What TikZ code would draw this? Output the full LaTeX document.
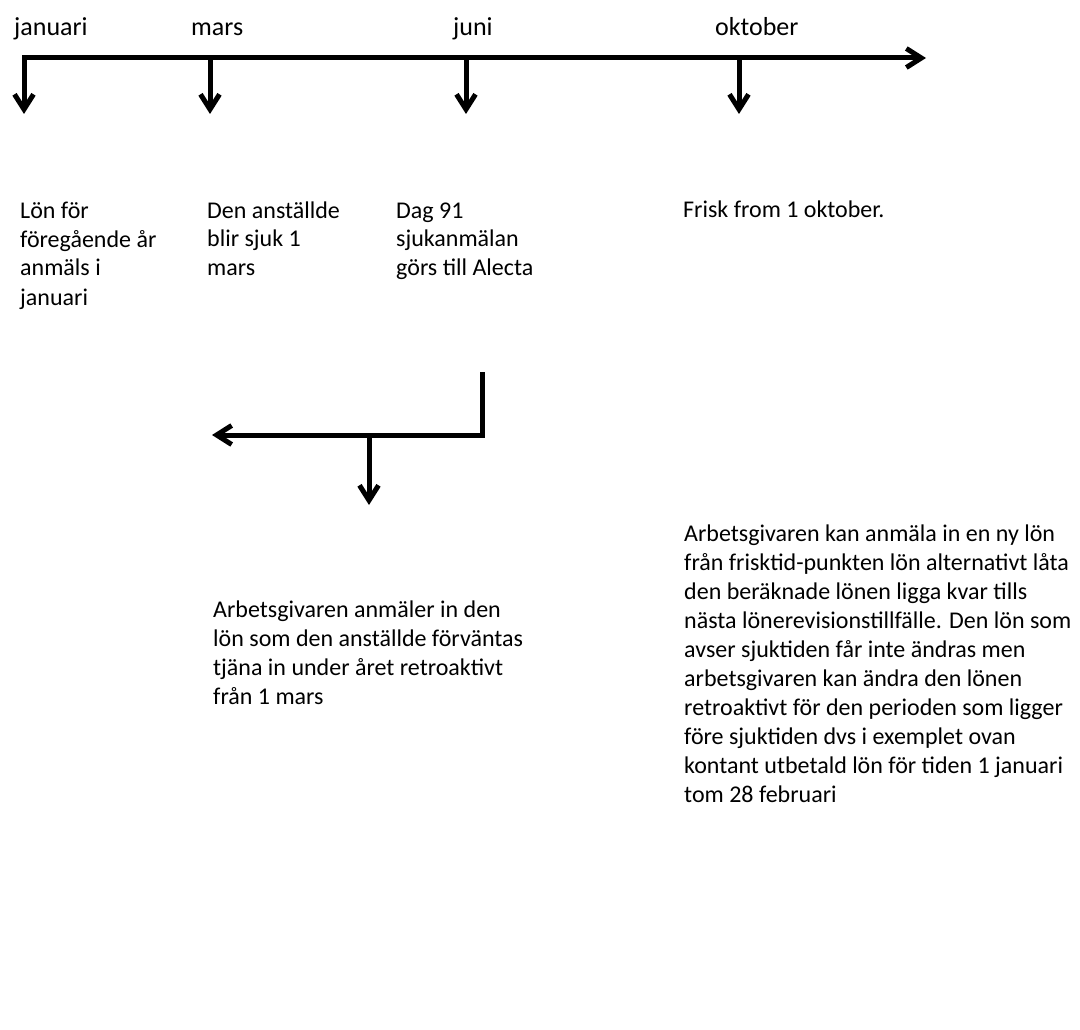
\documentclass[tikz,border=0pt]{standalone}
\usepackage{fontspec}
\setmainfont{Carlito}
\usetikzlibrary{arrows.meta}
\tikzset{
  conn/.style={line width=5pt, line join=miter},
  tip/.tip={Straight Barb[length=15pt,width=19pt,line width=5pt]},
  arr/.style={conn, -tip},
  txt/.style={anchor=base west, inner sep=0pt, align=left, font=\fontsize{24}{29}\selectfont},
  mon/.style={anchor=base west, inner sep=0pt, font=\fontsize{26}{31}\selectfont},
}
\begin{document}
\begin{tikzpicture}[x=1pt,y=-1pt]
\useasboundingbox (0,0) rectangle (1080,1030);
% top timeline
\coordinate (jan) at (24,58);
\coordinate (end) at (926,58);
\coordinate (mar) at (210,58);
\coordinate (jun) at (466,58);
\coordinate (okt) at (739,58);
\coordinate (janT) at (24,114);
\coordinate (marT) at (210,114);
\coordinate (junT) at (466,114);
\coordinate (oktT) at (739,114);
\draw[conn, tip-tip] (janT) -- (jan) -- (end);
\draw[arr] (mar) -- (marT);
\draw[arr] (jun) -- (junT);
\draw[arr] (okt) -- (oktT);
% month labels
\node[mon] (l1) at (14,36) {januari};
\node[mon] (l2) at (191,36) {mars};
\node[mon] (l3) at (453,36) {juni};
\node[mon] (l4) at (715,36) {oktober};
% text blocks (anchor = baseline of last line)
\node[txt] (t1) at (20,305) {Lön för\\föregående år\\anmäls i\\januari};
\node[txt] (t2) at (207,276) {Den anställde\\blir sjuk 1\\mars};
\node[txt] (t3) at (396,276) {Dag 91\\sjukanmälan\\görs till Alecta};
\node[txt] (t4) at (683,218) {Frisk from 1 oktober.};
% second structure
\coordinate (v1) at (482,372);
\coordinate (corner) at (482,435);
\coordinate (leftT) at (212,435);
\coordinate (br) at (369,435);
\coordinate (brT) at (369,505);
\draw[arr] (v1) -- (corner) -- (leftT);
\draw[arr] (br) -- (brT);
\node[txt] (t5) at (213,704) {Arbetsgivaren anmäler in den\\lön som den anställde förväntas\\tjäna in under året retroaktivt\\från 1 mars};
\node[txt] (t6) at (684,802) {Arbetsgivaren kan anmäla in en ny lön\\från frisktid-punkten lön alternativt låta\\den beräknade lönen ligga kvar tills\\nästa lönerevisionstillfälle. Den lön som\\avser sjuktiden får inte ändras men\\arbetsgivaren kan ändra den lönen\\retroaktivt för den perioden som ligger\\före sjuktiden dvs i exemplet ovan\\kontant utbetald lön för tiden 1 januari\\tom 28 februari};
\end{tikzpicture}
\end{document}
